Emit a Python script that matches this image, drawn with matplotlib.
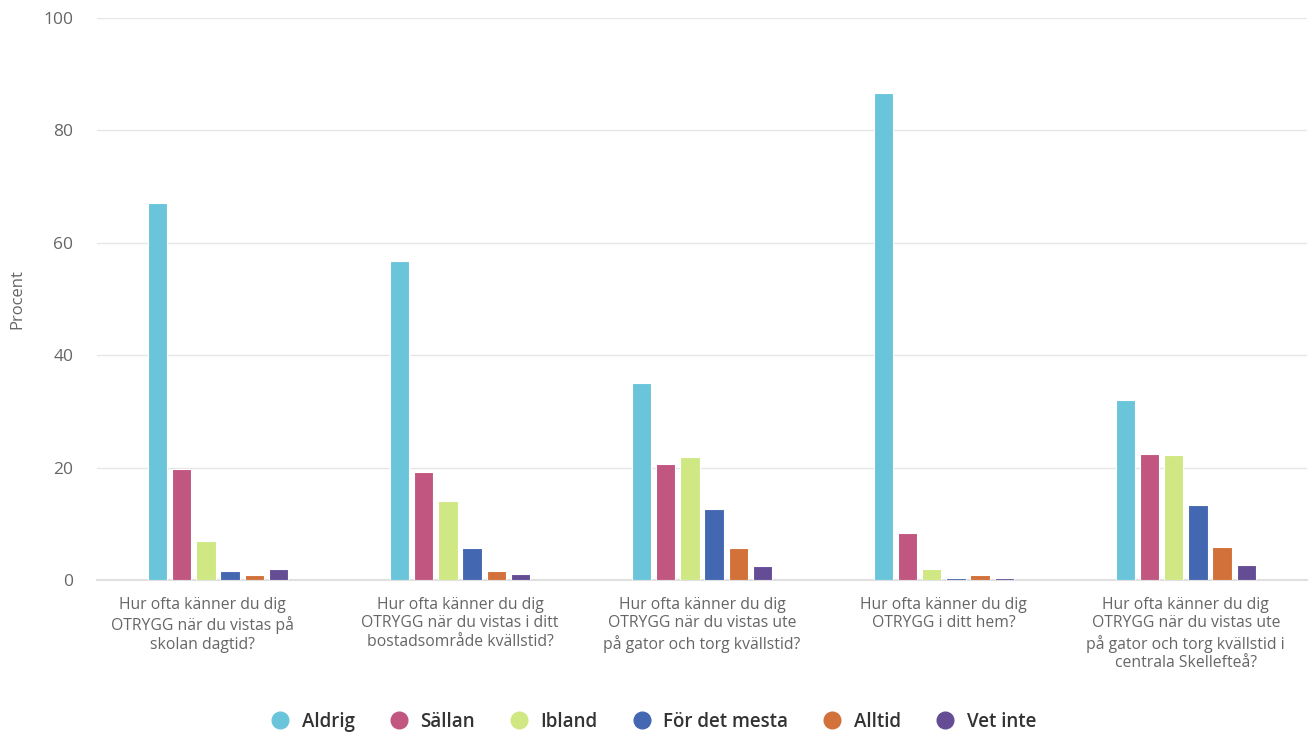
import numpy as np
import matplotlib
matplotlib.use("Agg")
import matplotlib.pyplot as plt
from matplotlib.lines import Line2D

plt.rcParams['font.family'] = ['Open Sans', 'DejaVu Sans']

categories = [
    "Hur ofta känner du dig\nOTRYGG när du vistas på\nskolan dagtid?",
    "Hur ofta känner du dig\nOTRYGG när du vistas i ditt\nbostadsområde kvällstid?",
    "Hur ofta känner du dig\nOTRYGG när du vistas ute\npå gator och torg kvällstid?",
    "Hur ofta känner du dig\nOTRYGG i ditt hem?",
    "Hur ofta känner du dig\nOTRYGG när du vistas ute\npå gator och torg kvällstid i\ncentrala Skellefteå?",
]
series_names = ["Aldrig", "Sällan", "Ibland", "För det mesta", "Alltid", "Vet inte"]
aldrig = [67.1, 56.8, 35.1, 86.7, 32.0]
sallan = [19.8, 19.2, 20.6, 8.4, 22.4]
ibland = [7.0, 14.1, 21.9, 1.9, 22.2]
for_det_mesta = [1.6, 5.6, 12.7, 0.35, 13.3]
alltid = [0.8, 1.6, 5.7, 0.8, 5.9]
vet_inte = [1.9, 1.1, 2.4, 0.35, 2.7]
colors = ["#6ac5da", "#c15781", "#cfe884", "#4467b2", "#d27139", "#654d96"]

series = [aldrig, sallan, ibland, for_det_mesta, alltid, vet_inte]

fig = plt.figure(figsize=(13.12, 7.36), dpi=100)
ax = fig.add_axes([0.074, 0.212, 0.922, 0.7635])

n = len(categories)
x = np.arange(n)
group_pad = 0.2
slot = (1 - 2 * group_pad) / len(series)
bar_w = slot * 0.8
for i, vals in enumerate(series):
    pos = x - 0.5 + group_pad + slot * (i + 0.5)
    ax.bar(pos, vals, width=bar_w, color=colors[i], edgecolor='white',
           linewidth=0.8, zorder=3)

ax.set_xlim(-0.5, n - 0.5)
ax.set_ylim(0, 100)
ax.set_yticks([0, 20, 40, 60, 80, 100])
ax.grid(axis='y', color='#e6e6e6', linewidth=1, zorder=0)
ax.tick_params(axis='y', length=0, labelsize=12.5, labelcolor='#666666', pad=17)
ax.set_xticks([])
for s in ['top', 'right', 'left']:
    ax.spines[s].set_visible(False)
ax.spines['bottom'].set_color('#e0e0e0')
ax.spines['bottom'].set_linewidth(1.5)
ax.set_ylabel("Procent", fontsize=12, color='#666666', labelpad=13)

# category labels (first one sits a bit left, like the original)
offsets = [-0.066, 0, 0, 0, 0]
for i, lab in enumerate(categories):
    ax.text(x[i] + offsets[i], -0.03, lab, transform=ax.get_xaxis_transform(),
            ha='center', va='top', fontsize=11.3, color='#666666', linespacing=1.22)

handles = [Line2D([], [], marker='o', linestyle='none', markersize=12,
                  markerfacecolor=c, markeredgecolor=c) for c in colors]
fig.legend(handles, series_names, loc='center', bbox_to_anchor=(0.498, 0.019),
           ncol=6, frameon=False, handlelength=1.0, handletextpad=0.65,
           columnspacing=1.85, labelcolor='#333333',
           prop={'size': 13.5, 'weight': 'semibold'})

fig.savefig("out.png", dpi=100)
